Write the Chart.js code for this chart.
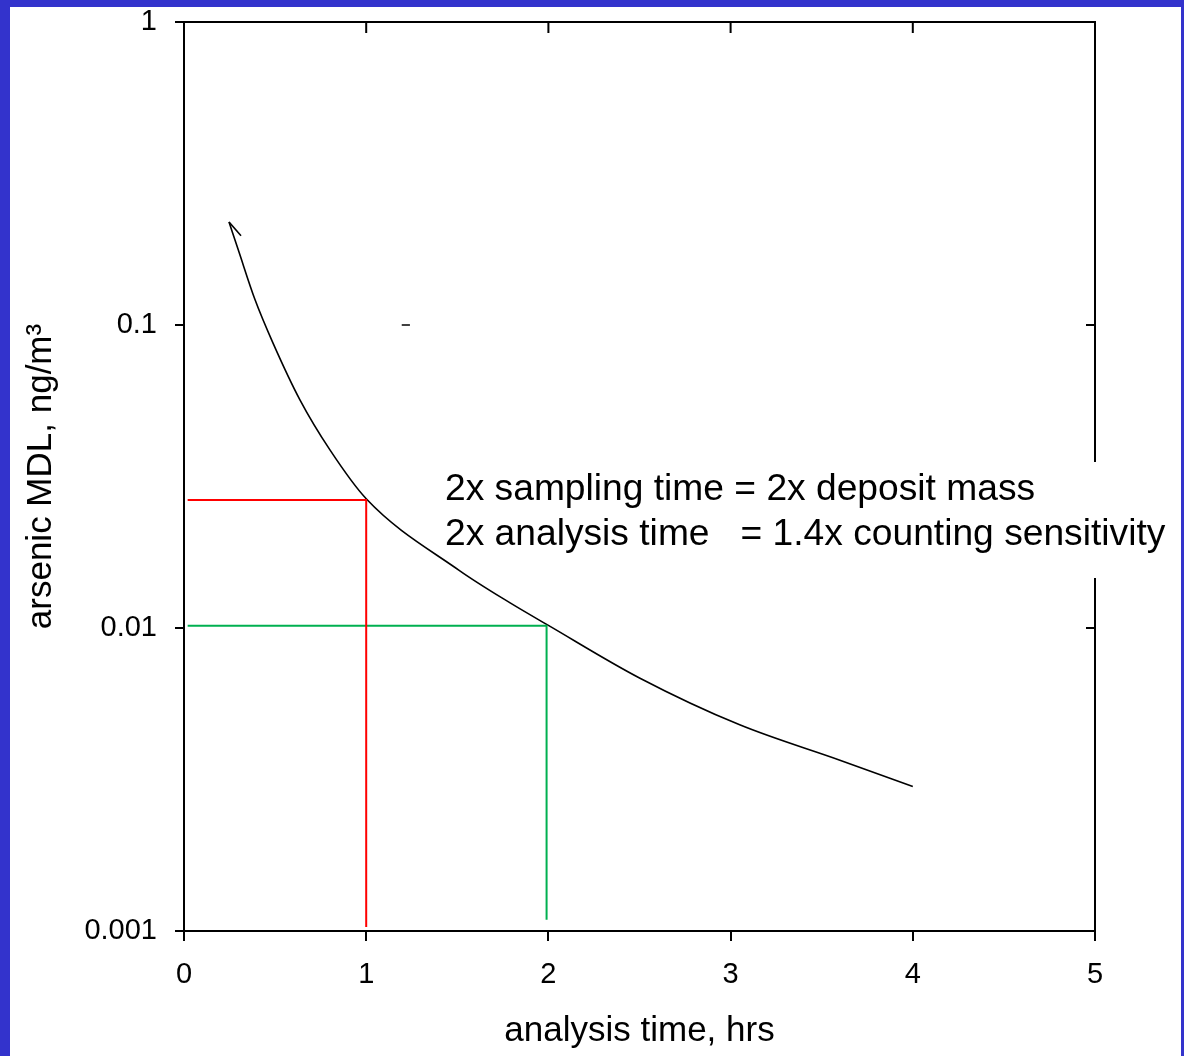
<!DOCTYPE html>
<html>
<head>
<meta charset="utf-8">
<script src="https://cdn.jsdelivr.net/npm/chart.js@4/dist/chart.umd.min.js"></script>
<style>
html,body{margin:0;padding:0;background:#3333CC;}
canvas{display:block;}
</style>
</head>
<body>
<canvas id="c" width="1184" height="1056"></canvas>
<script>
// ---- data ----
const curveX = [0.247, 0.30, 0.39, 0.488, 0.637, 0.801, 1.0, 1.51, 1.79, 2.0, 2.5, 3.05, 3.6, 4.0];
const curveY = [0.2188, 0.1754, 0.1211, 0.0873, 0.0565, 0.0387, 0.0267, 0.0155, 0.0121, 0.0102, 0.00684, 0.00479, 0.00366, 0.00300];
const hookX = [0.313, 0.247];
const hookY = [0.197, 0.2188];
const redX = [0.02, 1.0, 1.0];
const redY = [0.02645, 0.02645, 0.00103];
const greenX = [0.02, 1.99, 1.99];
const greenY = [0.01018, 0.01018, 0.00109];
const dashX = [1.195, 1.24];
const dashY = [0.1, 0.1];
const xTickValues = [0, 1, 2, 3, 4, 5];
const xTickLabels = ['0', '1', '2', '3', '4', '5'];
const yTickValues = [0.001, 0.01, 0.1, 1];
const yTickLabels = ['0.001', '0.01', '0.1', '1'];
const xTitle = 'analysis time, hrs';
const yTitle = 'arsenic MDL, ng/m\u00B3';
const noteLines = ['2x sampling time = 2x deposit mass', '2x analysis time   = 1.4x counting sensitivity'];

const pts = (xs, ys) => xs.map((x, i) => ({x: x, y: ys[i]}));
const FONT = "'Liberation Sans', Arial, sans-serif";

const framePlugin = {
  id: 'frame',
  beforeDraw(chart) {
    const ctx = chart.ctx;
    ctx.save();
    ctx.fillStyle = '#3333CC';
    ctx.fillRect(0, 0, chart.width, chart.height);
    ctx.fillStyle = '#FFFFFF';
    ctx.fillRect(10, 7, 1171, chart.height - 7);
    ctx.restore();
  },
  afterDraw(chart) {
    const ctx = chart.ctx;
    const a = chart.chartArea;
    const xs = chart.scales.x, ys = chart.scales.y;
    ctx.save();
    ctx.strokeStyle = '#000';
    ctx.lineWidth = 2;
    ctx.lineCap = 'butt';
    ctx.beginPath();
    // top frame
    ctx.moveTo(a.left, a.top); ctx.lineTo(a.right + 1, a.top);
    // right frame with gap behind the note
    ctx.moveTo(a.right, a.top); ctx.lineTo(a.right, 462);
    ctx.moveTo(a.right, 578); ctx.lineTo(a.right, a.bottom);
    // inner top ticks
    [1, 2, 3, 4].forEach(v => {
      const px = xs.getPixelForValue(v);
      ctx.moveTo(px, a.top); ctx.lineTo(px, a.top + 11);
    });
    // inner right ticks
    [0.1, 0.01].forEach(v => {
      const py = ys.getPixelForValue(v);
      ctx.moveTo(a.right - 9, py); ctx.lineTo(a.right, py);
    });
    ctx.stroke();
    // note text
    ctx.fillStyle = '#000';
    ctx.font = '37.2px ' + FONT;
    ctx.textBaseline = 'alphabetic';
    ctx.textAlign = 'left';
    ctx.fillText(noteLines[0], 445, 500);
    ctx.fillText(noteLines[1], 445, 545);
    ctx.restore();
  }
};

new Chart(document.getElementById('c'), {
  type: 'scatter',
  data: {
    datasets: [
      {data: pts(redX, redY), showLine: true, borderColor: '#FF0000', borderWidth: 2, pointRadius: 0, tension: 0},
      {data: pts(greenX, greenY), showLine: true, borderColor: '#00B050', borderWidth: 2, pointRadius: 0, tension: 0},
      {data: pts(curveX, curveY), showLine: true, borderColor: '#000000', borderWidth: 1.6, pointRadius: 0, cubicInterpolationMode: 'monotone'},
      {data: pts(hookX, hookY), showLine: true, borderColor: '#000000', borderWidth: 1.6, pointRadius: 0, tension: 0},
      {data: pts(dashX, dashY), showLine: true, borderColor: '#000000', borderWidth: 1.5, pointRadius: 0, tension: 0}
    ]
  },
  options: {
    responsive: false,
    devicePixelRatio: 1,
    animation: false,
    events: [],
    layout: {padding: {left: 0, right: 89, top: 22, bottom: 0}},
    plugins: {legend: {display: false}, tooltip: {enabled: false}},
    scales: {
      x: {
        type: 'linear', position: 'bottom', min: 0, max: 5,
        afterBuildTicks: s => { s.ticks = xTickValues.map(v => ({value: v})); },
        afterFit: s => { s.height = 125; },
        ticks: {
          color: '#000', padding: 17, maxRotation: 0,
          font: {family: FONT, size: 29, lineHeight: 1.2},
          callback: (v) => xTickLabels[xTickValues.indexOf(v)]
        },
        grid: {drawOnChartArea: false, drawTicks: true, tickLength: 10, color: '#000', lineWidth: 2},
        border: {display: true, color: '#000', width: 2},
        title: {display: true, text: xTitle, color: '#000', font: {family: FONT, size: 35, lineHeight: 1.2}, padding: {top: 0, bottom: 4}}
      },
      y: {
        type: 'logarithmic', position: 'left', min: 0.001, max: 1,
        afterBuildTicks: s => { s.ticks = yTickValues.map(v => ({value: v})); },
        afterFit: s => { s.width = 184; },
        ticks: {
          color: '#000', padding: 18,
          font: {family: FONT, size: 29, lineHeight: 0.1},
          callback: (v) => { const i = yTickValues.findIndex(t => Math.abs(t - v) / t < 1e-6); return i >= 0 ? yTickLabels[i] : ''; }
        },
        grid: {drawOnChartArea: false, drawTicks: true, tickLength: 9, color: '#000', lineWidth: 2},
        border: {display: true, color: '#000', width: 2},
        title: {display: true, text: yTitle, color: '#000', font: {family: FONT, size: 35, lineHeight: 1.2}, padding: {top: 20, bottom: 0}}
      }
    }
  },
  plugins: [framePlugin]
});
</script>
</body>
</html>
